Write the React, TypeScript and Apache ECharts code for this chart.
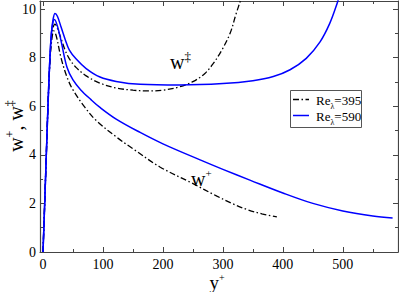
import React, { useEffect, useRef } from "react";
import * as echarts from "echarts";

// ---- data ----
const wDag395X = [0, 2, 5, 8, 11, 14, 17, 20, 24, 30, 37, 44, 55, 72, 95, 122, 150, 173, 200, 228, 250, 270, 284, 298, 312, 322, 330, 338];
const wDag395Y = [0, 1.4, 3.6, 5.8, 7.6, 8.8, 9.25, 9.38, 9.2, 8.8, 8.3, 7.95, 7.6, 7.25, 6.95, 6.75, 6.66, 6.63, 6.66, 6.8, 7.01, 7.35, 7.76, 8.3, 9.0, 9.8, 10.4, 11.0];

const wPlus395X = [0, 2, 5, 8, 11, 14, 18, 22, 30, 40, 50, 70, 88, 122, 150, 195, 248, 290, 317, 340, 365, 390];
const wPlus395Y = [0, 1.4, 3.6, 5.8, 7.6, 8.6, 9.1, 8.9, 8.0, 7.2, 6.67, 5.95, 5.43, 4.74, 4.25, 3.5, 2.84, 2.3, 1.98, 1.75, 1.57, 1.45];

const wDag590X = [0, 2, 5, 8, 11, 14, 17, 20, 24, 30, 37, 44, 55, 72, 95, 122, 162, 228, 300, 350, 384, 412, 439, 462, 478, 490, 500];
const wDag590Y = [0, 1.4, 3.6, 5.8, 7.7, 9.0, 9.6, 9.82, 9.7, 9.27, 8.75, 8.31, 7.95, 7.55, 7.2, 7.02, 6.9, 6.87, 6.93, 7.05, 7.22, 7.5, 7.97, 8.65, 9.4, 10.2, 11.0];

const wPlus590X = [0, 2, 5, 8, 11, 14, 17, 19, 24, 30, 40, 50, 63, 80, 95, 122, 162, 200, 262, 300, 345, 400, 450, 500, 550, 583];
const wPlus590Y = [0, 1.4, 3.6, 5.8, 7.7, 9.0, 9.5, 9.57, 9.3, 8.7, 7.6, 7.08, 6.67, 6.27, 5.95, 5.47, 4.92, 4.45, 3.79, 3.4, 2.96, 2.43, 2.0, 1.69, 1.48, 1.4];

const xMajor = [0, 100, 200, 300, 400, 500];
const xMinor = [50, 150, 250, 350, 450, 550];
const yMajor = [0, 2, 4, 6, 8, 10];
const yMinor = [1, 3, 5, 7, 9];

const legendLabels = ["395", "590"];

const zip = (xs: number[], ys: number[]) => xs.map((x, i) => [x, ys[i]]);

const FONT = "Liberation Serif";
const AX = "#444";
const XMIN = -5;
const XMAX = 592;
const YMIN = 0;
const YMAX = 10.33;

export default function App() {
  const ref = useRef<HTMLDivElement>(null);
  useEffect(() => {
    if (!ref.current) return;
    const chart = echarts.init(ref.current, undefined, { renderer: "svg" });

    const labelStyle = {
      fontFamily: FONT,
      fontSize: 14,
      color: "#000",
      formatter: (v: number) => `{t|${v}}`,
      rich: { t: { fontFamily: FONT, fontSize: 14, fill: "#000", color: "#000" } },
    };

    const xAx = (position: string, ticks: number[], len: number, labels: boolean, line: boolean) => ({
      type: "value",
      position,
      min: XMIN,
      max: XMAX,
      axisLine: { show: line, onZero: false, lineStyle: { color: AX, width: 1.2 } },
      axisTick: { show: true, inside: true, length: len, customValues: ticks, lineStyle: { color: AX, width: 1 } },
      axisLabel: labels ? { show: true, customValues: ticks, margin: 5, ...labelStyle } : { show: false },
      splitLine: { show: false },
    });
    const yAx = (position: string, ticks: number[], len: number, labels: boolean, line: boolean) => ({
      type: "value",
      position,
      min: YMIN,
      max: YMAX,
      axisLine: { show: line, onZero: false, lineStyle: { color: AX, width: 1.2 } },
      axisTick: { show: true, inside: true, length: len, customValues: ticks, lineStyle: { color: AX, width: 1 } },
      axisLabel: labels ? { show: true, customValues: ticks, margin: 4, ...labelStyle } : { show: false },
      splitLine: { show: false },
    });

    const lineSer = (data: number[][], color: string, type: any, width: number) => ({
      type: "line",
      data,
      xAxisIndex: 0,
      yAxisIndex: 0,
      showSymbol: false,
      symbol: "none",
      smooth: 0.35,
      clip: true,
      lineStyle: { color, type, width },
    });

    const dashDot = [6, 2.5, 1.5, 2.5];

    chart.setOption({
      animation: false,
      textStyle: { fontFamily: FONT },
      grid: { left: 40, right: 1, top: 1, bottom: 40, containLabel: false },
      xAxis: [
        xAx("bottom", xMajor, 5, true, true),
        xAx("bottom", xMinor, 3, false, false),
        xAx("top", xMajor, 5, false, true),
        xAx("top", xMinor, 3, false, false),
      ],
      yAxis: [
        yAx("left", yMajor, 5, true, true),
        yAx("left", yMinor, 3, false, false),
        yAx("right", yMajor, 5, false, true),
        yAx("right", yMinor, 3, false, false),
      ],
      series: [
        lineSer(zip(wDag395X, wDag395Y), "#000", dashDot, 1.3),
        lineSer(zip(wPlus395X, wPlus395Y), "#000", dashDot, 1.3),
        lineSer(zip(wDag590X, wDag590Y), "#0000ff", "solid", 1.5),
        lineSer(zip(wPlus590X, wPlus590Y), "#0000ff", "solid", 1.5),
      ],
      graphic: [
        // legend box
        {
          type: "rect",
          shape: { x: 290.5, y: 90.5, width: 71, height: 37 },
          style: { fill: "#fff", stroke: "#555", lineWidth: 1 },
          z: 10,
        },
        {
          type: "line",
          shape: { x1: 293, y1: 99.5, x2: 309, y2: 99.5 },
          style: { stroke: "#000", lineWidth: 1.3, lineDash: dashDot },
          z: 11,
        },
        {
          type: "line",
          shape: { x1: 293, y1: 115.5, x2: 309, y2: 115.5 },
          style: { stroke: "#0000ff", lineWidth: 1.5 },
          z: 11,
        },
        ...legendLabels.map((v, i) => ({
          type: "text",
          x: 316,
          y: 100 + i * 16,
          z: 11,
          style: {
            text: `{a|Re}{s|λ}{a|=${v}}`,
            textVerticalAlign: "middle",
            textAlign: "left",
            fill: "#000",
            rich: {
              a: { fontFamily: FONT, fontSize: 13, fill: "#000", verticalAlign: "bottom", lineHeight: 14 },
              s: { fontFamily: FONT, fontSize: 8, fill: "#000", verticalAlign: "bottom", lineHeight: 10, padding: [0, 0, -3, 0] },
            },
          },
        })),
        // annotations
        {
          type: "text",
          x: 170,
          y: 72,
          style: {
            text: "{a|w}{s|‡}",
            textVerticalAlign: "bottom",
            textAlign: "left",
            rich: {
              a: { fontFamily: FONT, fontSize: 20, fill: "#000", verticalAlign: "bottom", lineHeight: 22 },
              s: { fontFamily: FONT, fontSize: 13, fill: "#000", verticalAlign: "top", lineHeight: 22 },
            },
          },
        },
        {
          type: "text",
          x: 191,
          y: 189,
          style: {
            text: "{a|w}{s|+}",
            textVerticalAlign: "bottom",
            textAlign: "left",
            rich: {
              a: { fontFamily: FONT, fontSize: 20, fill: "#000", verticalAlign: "bottom", lineHeight: 22 },
              s: { fontFamily: FONT, fontSize: 11, fill: "#000", verticalAlign: "top", lineHeight: 22 },
            },
          },
        },
        // x axis title
        {
          type: "text",
          x: 217,
          y: 292,
          style: {
            text: "{a|y}{s|+}",
            textVerticalAlign: "bottom",
            textAlign: "center",
            rich: {
              a: { fontFamily: FONT, fontSize: 19, fill: "#000", verticalAlign: "bottom", lineHeight: 20 },
              s: { fontFamily: FONT, fontSize: 10, fill: "#000", verticalAlign: "top", lineHeight: 20 },
            },
          },
        },
        // y axis title
        {
          type: "text",
          x: 15,
          y: 126,
          rotation: Math.PI / 2,
          style: {
            text: "{a|w}{s|+}{a|, w}{s|‡}",
            textVerticalAlign: "middle",
            textAlign: "center",
            rich: {
              a: { fontFamily: FONT, fontSize: 20, fill: "#000", verticalAlign: "bottom", lineHeight: 22 },
              s: { fontFamily: FONT, fontSize: 12, fill: "#000", verticalAlign: "top", lineHeight: 22 },
            },
          },
        },
      ],
    });
    return () => chart.dispose();
  }, []);
  return <div ref={ref} style={{ width: 399, height: 292, position: "absolute", left: 0, top: 0 }} />;
}
